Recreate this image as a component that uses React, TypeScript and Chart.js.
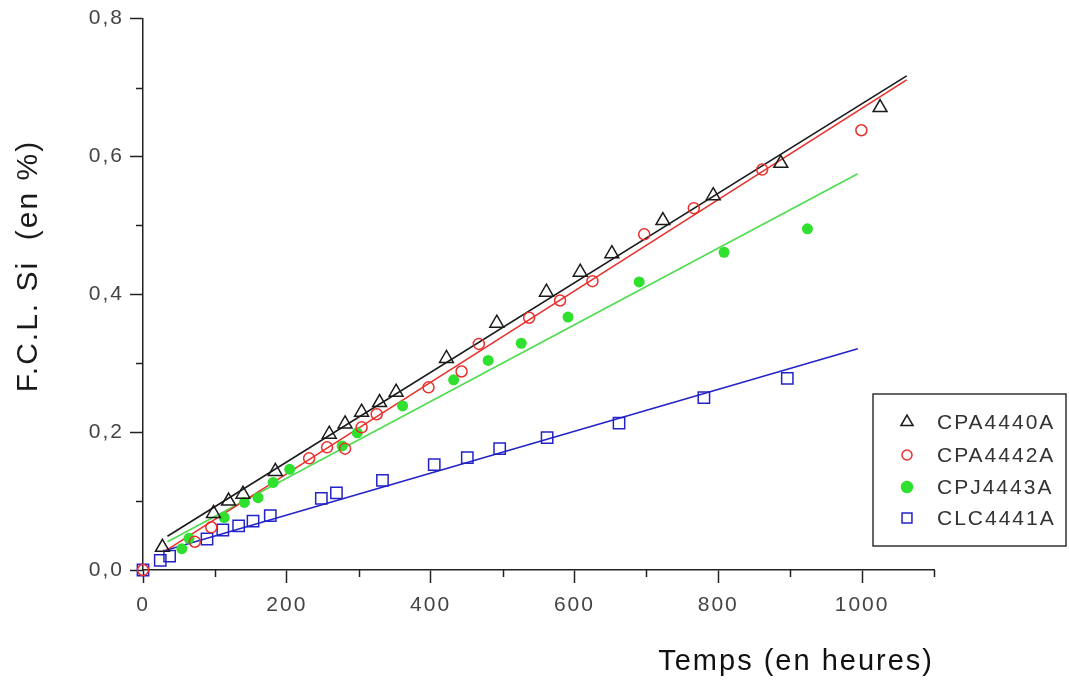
import React, { useEffect, useRef } from 'react';
import { Chart, registerables } from 'chart.js';
import { drawPoint } from 'chart.js/helpers';

Chart.register(...registerables);

const FONT = '"Liberation Sans", Arial, sans-serif';

// Series names
const seriesNames = ['CPA4440A', 'CPA4442A', 'CPJ4443A', 'CLC4441A'];

// CPA4440A (black triangles)
const blackX = [27, 98, 119, 139, 184, 259, 281, 304, 329, 352, 422, 492, 561, 608, 652, 723, 793, 887, 1025];
const blackY = [0.033, 0.082, 0.1, 0.11, 0.143, 0.197, 0.212, 0.229, 0.243, 0.258, 0.307, 0.358, 0.403, 0.432, 0.459, 0.507, 0.543, 0.59, 0.671];

// CPA4442A (red circles)
const redX = [0, 72, 95, 231, 256, 281, 304, 325, 397, 443, 467, 537, 580, 625, 697, 766, 861, 999];
const redY = [0, 0.041, 0.062, 0.162, 0.178, 0.176, 0.207, 0.226, 0.265, 0.288, 0.328, 0.366, 0.391, 0.419, 0.487, 0.525, 0.581, 0.638];

// CPJ4443A (green dots)
const greenX = [54, 64, 113, 141, 160, 181, 204, 277, 298, 361, 432, 480, 526, 591, 690, 808, 924];
const greenY = [0.031, 0.046, 0.076, 0.098, 0.105, 0.127, 0.146, 0.18, 0.199, 0.238, 0.276, 0.304, 0.329, 0.367, 0.418, 0.461, 0.495];

// CLC4441A (blue squares)
const blueX = [0, 24, 37, 89, 111, 133, 153, 177, 248, 269, 333, 405, 451, 496, 562, 662, 780, 896];
const blueY = [0, 0.014, 0.02, 0.045, 0.058, 0.064, 0.071, 0.079, 0.104, 0.112, 0.13, 0.153, 0.163, 0.176, 0.192, 0.213, 0.25, 0.278];

// Linear fit lines (end points)
const blackFitX = [34, 1062];
const blackFitY = [0.049, 0.717];
const redFitX = [30, 1062];
const redFitY = [0.027, 0.711];
const greenFitX = [34, 994];
const greenFitY = [0.041, 0.575];
const blueFitX = [33, 994];
const blueFitY = [0.029, 0.321];

// Axis settings
const xMin = 0;
const xMax = 1100;
const xStep = 100;
const yMin = 0;
const yMax = 0.8;
const yStep = 0.1;
const xTitle = 'Temps (en heures)';
const yTitle = 'F.C.L. Si  (en %)';

const BLACK = '#1a1a1a';
const RED = '#e8302c';
const GREEN = '#2fe02f';
const GREEN_LINE = '#4fdc4f';
const BLUE = '#2323c8';

const pts = (xs: number[], ys: number[]) => xs.map((x, i) => ({ x, y: ys[i] }));

const isMajorX = (v: number) => Math.round(v / 100) % 2 === 0;
const isMajorY = (v: number) => Math.round(v * 10) % 2 === 0;

const legendStyles = [
  { pointStyle: 'triangle', radius: 7, stroke: BLACK, fill: 'rgba(0,0,0,0)' },
  { pointStyle: 'circle', radius: 5, stroke: RED, fill: 'rgba(0,0,0,0)' },
  { pointStyle: 'circle', radius: 5.5, stroke: GREEN, fill: GREEN },
  { pointStyle: 'rect', radius: 7, stroke: BLUE, fill: 'rgba(0,0,0,0)' },
];

const extras = {
  id: 'extras',
  beforeDraw(chart: any) {
    chart.ctx.letterSpacing = '2px';
  },
  afterDraw(chart: any) {
    const { ctx, scales, chartArea } = chart;
    const x = scales.x;
    const y = scales.y;
    ctx.save();
    // minor ticks
    ctx.strokeStyle = '#222';
    ctx.lineWidth = 1.5;
    x.ticks.forEach((t: any) => {
      if (isMajorX(t.value)) return;
      const px = Math.round(x.getPixelForValue(t.value)) + 0.5;
      ctx.beginPath();
      ctx.moveTo(px, chartArea.bottom);
      ctx.lineTo(px, chartArea.bottom + 7);
      ctx.stroke();
    });
    y.ticks.forEach((t: any) => {
      if (isMajorY(t.value)) return;
      const py = Math.round(y.getPixelForValue(t.value)) + 0.5;
      ctx.beginPath();
      ctx.moveTo(chartArea.left, py);
      ctx.lineTo(chartArea.left - 7, py);
      ctx.stroke();
    });

    // y axis title
    ctx.save();
    ctx.translate(29, 266);
    ctx.rotate(-Math.PI / 2);
    ctx.font = `30px ${FONT}`;
    ctx.fillStyle = '#1a1a1a';
    ctx.textAlign = 'center';
    ctx.textBaseline = 'middle';
    ctx.fillText(yTitle, 0, 0);
    ctx.restore();

    // legend box
    const bx = 873, by = 394, bw = 193, bh = 152;
    ctx.strokeStyle = '#333';
    ctx.lineWidth = 1.5;
    ctx.strokeRect(bx, by, bw, bh);
    const rows = [422, 455, 487, 518];
    ctx.font = `21px ${FONT}`;
    ctx.textAlign = 'left';
    ctx.textBaseline = 'middle';
    seriesNames.forEach((name, i) => {
      const s = legendStyles[i];
      ctx.strokeStyle = s.stroke;
      ctx.fillStyle = s.fill;
      ctx.lineWidth = 1.5;
      drawPoint(ctx, { pointStyle: s.pointStyle as any, radius: s.radius, rotation: 0, borderWidth: 1.5 }, 907, rows[i]);
      ctx.fillStyle = '#333';
      ctx.fillText(name, 937, rows[i] + 1);
    });
    ctx.restore();
    ctx.letterSpacing = '0px';
  },
};

export default function App() {
  const ref = useRef<HTMLCanvasElement | null>(null);

  useEffect(() => {
    if (!ref.current) return;
    const chart = new Chart(ref.current, {
      type: 'scatter',
      data: {
        datasets: [
          {
            label: seriesNames[0],
            data: pts(blackX, blackY),
            pointStyle: 'triangle',
            pointRadius: 8,
            pointBorderWidth: 1.5,
            borderColor: BLACK,
            backgroundColor: 'rgba(0,0,0,0)',
            showLine: false,
            clip: false,
          },
          {
            label: seriesNames[1],
            data: pts(redX, redY),
            pointStyle: 'circle',
            pointRadius: 5.5,
            pointBorderWidth: 1.5,
            borderColor: RED,
            backgroundColor: 'rgba(0,0,0,0)',
            showLine: false,
            clip: false,
          },
          {
            label: seriesNames[2],
            data: pts(greenX, greenY),
            pointStyle: 'circle',
            pointRadius: 5.5,
            pointBorderWidth: 0,
            borderColor: GREEN,
            backgroundColor: GREEN,
            showLine: false,
            clip: false,
          },
          {
            label: seriesNames[3],
            data: pts(blueX, blueY),
            pointStyle: 'rect',
            pointRadius: 8,
            pointBorderWidth: 1.5,
            borderColor: BLUE,
            backgroundColor: 'rgba(0,0,0,0)',
            showLine: false,
            clip: false,
          },
          {
            label: 'fit ' + seriesNames[0],
            data: pts(blackFitX, blackFitY),
            showLine: true,
            borderColor: BLACK,
            borderWidth: 1.6,
            pointRadius: 0,
          },
          {
            label: 'fit ' + seriesNames[1],
            data: pts(redFitX, redFitY),
            showLine: true,
            borderColor: RED,
            borderWidth: 1.6,
            pointRadius: 0,
          },
          {
            label: 'fit ' + seriesNames[2],
            data: pts(greenFitX, greenFitY),
            showLine: true,
            borderColor: GREEN_LINE,
            borderWidth: 1.6,
            pointRadius: 0,
          },
          {
            label: 'fit ' + seriesNames[3],
            data: pts(blueFitX, blueFitY),
            showLine: true,
            borderColor: BLUE,
            borderWidth: 1.6,
            pointRadius: 0,
          },
        ],
      },
      options: {
        animation: false,
        responsive: false,
        layout: { padding: { left: 0, top: 18, right: 135, bottom: 0 } },
        plugins: {
          legend: { display: false },
          tooltip: { enabled: false },
          title: { display: false },
        },
        scales: {
          x: {
            type: 'linear',
            min: xMin,
            max: xMax,
            afterFit: (s: any) => {
              s.height = 114;
            },
            border: { display: true, color: '#222', width: 1.5 },
            grid: {
              display: true,
              drawOnChartArea: false,
              drawTicks: true,
              tickLength: 13,
              tickWidth: 1.5,
              tickColor: (c: any) => (c.tick && isMajorX(c.tick.value) ? '#222' : 'rgba(0,0,0,0)'),
            },
            ticks: {
              stepSize: xStep,
              padding: 10,
              color: '#444',
              font: { family: FONT, size: 21 },
              maxRotation: 0,
              autoSkip: false,
              callback: (v: any) => (isMajorX(Number(v)) && Number(v) <= 1000 ? String(v) : ''),
            },
            title: {
              display: true,
              text: xTitle,
              align: 'end',
              color: '#111',
              font: { family: FONT, size: 29 },
              padding: { top: 0, bottom: 5 },
            },
          },
          y: {
            type: 'linear',
            min: yMin,
            max: yMax,
            afterFit: (s: any) => {
              s.width = 143;
            },
            border: { display: true, color: '#222', width: 1.5 },
            grid: {
              display: true,
              drawOnChartArea: false,
              drawTicks: true,
              tickLength: 13,
              tickWidth: 1.5,
              tickColor: (c: any) => (c.tick && isMajorY(c.tick.value) ? '#222' : 'rgba(0,0,0,0)'),
            },
            ticks: {
              stepSize: yStep,
              padding: 6,
              color: '#444',
              font: { family: FONT, size: 21 },
              autoSkip: false,
              callback: (v: any) => (isMajorY(Number(v)) ? Number(v).toFixed(1).replace('.', ',') : ''),
            },
          },
        },
      },
      plugins: [extras],
    });
    return () => chart.destroy();
  }, []);

  return (
    <div style={{ position: 'absolute', left: 0, top: 0, width: 1069, height: 684, background: '#fff' }}>
      <canvas ref={ref} width={1069} height={684} style={{ display: 'block' }} />
    </div>
  );
}
